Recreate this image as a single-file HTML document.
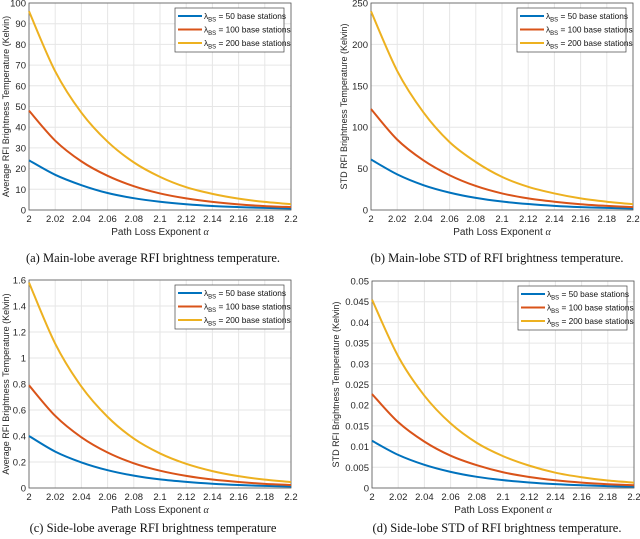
<!DOCTYPE html>
<html><head><meta charset="utf-8">
<style>
body{margin:0;background:#fff;}
svg{display:block;}
text{font-family:"Liberation Sans",sans-serif;}
.cap{font-family:"Liberation Serif",serif;font-size:12.5px;fill:#111;}
</style></head>
<body>
<svg id="fig" width="640" height="539" viewBox="0 0 640 539"></svg>
<script>
const xTicks = [2,2.02,2.04,2.06,2.08,2.1,2.12,2.14,2.16,2.18,2.2];
const xTickLabels = ['2','2.02','2.04','2.06','2.08','2.1','2.12','2.14','2.16','2.18','2.2'];
const xValues = [2,2.02,2.04,2.06,2.08,2.1,2.12,2.14,2.16,2.18,2.2];
const seriesNames = ['50','100','200'];

const aBlue = [24,17,12,8.2,5.7,4,2.8,1.95,1.4,1,0.7];
const aRed = [48,33.5,23.5,16.5,11.5,8,5.6,3.9,2.7,1.9,1.4];
const aYellow = [96,67,47,33,23,16,11,7.8,5.5,3.9,2.8];
const aYTicks = [0,10,20,30,40,50,60,70,80,90,100];

const bBlue = [61,43,30,21,14.6,10.2,7.2,5,3.5,2.5,1.8];
const bRed = [122,85,60,42,29,20,14,10,7,5,3.5];
const bYellow = [240,168,118,82,58,40,28,20,14,10,7];
const bYTicks = [0,50,100,150,200,250];

const cBlue = [0.4,0.28,0.197,0.137,0.095,0.066,0.047,0.033,0.023,0.016,0.012];
const cRed = [0.79,0.555,0.39,0.273,0.19,0.133,0.093,0.065,0.046,0.032,0.023];
const cYellow = [1.58,1.11,0.78,0.547,0.38,0.266,0.186,0.13,0.091,0.064,0.046];
const cYTicks = [0,0.2,0.4,0.6,0.8,1,1.2,1.4,1.6];

const dBlue = [0.0114,0.008,0.0056,0.0039,0.0027,0.0019,0.00133,0.00093,0.00065,0.00046,0.00033];
const dRed = [0.0227,0.0159,0.0112,0.0078,0.0055,0.0038,0.00267,0.00187,0.0013,0.00092,0.00065];
const dYellow = [0.0455,0.0318,0.0223,0.0156,0.0109,0.0077,0.0054,0.0037,0.0026,0.0018,0.0013];
const dYTicks = [0,0.005,0.01,0.015,0.02,0.025,0.03,0.035,0.04,0.045,0.05];

const NS='http://www.w3.org/2000/svg';
const svg=document.getElementById('fig');
function mk(tag,attrs,parent,txt){const e=document.createElementNS(NS,tag);for(const k in attrs)e.setAttribute(k,attrs[k]);if(txt!==undefined)e.textContent=txt;(parent||svg).appendChild(e);return e;}

const colors=['#0072BD','#D95319','#EDB120'];

function smoothPath(pts){
  let d='M'+pts[0][0].toFixed(2)+','+pts[0][1].toFixed(2);
  for(let i=0;i<pts.length-1;i++){
    const p0=pts[Math.max(0,i-1)],p1=pts[i],p2=pts[i+1],p3=pts[Math.min(pts.length-1,i+2)];
    const c1x=p1[0]+(p2[0]-p0[0])/6,c1y=p1[1]+(p2[1]-p0[1])/6;
    const c2x=p2[0]-(p3[0]-p1[0])/6,c2y=p2[1]-(p3[1]-p1[1])/6;
    d+=' C'+c1x.toFixed(2)+','+c1y.toFixed(2)+' '+c2x.toFixed(2)+','+c2y.toFixed(2)+' '+p2[0].toFixed(2)+','+p2[1].toFixed(2);
  }
  return d;
}

function chart(id,L,T,R,B,yTicks,yMax,series,yTitle,titleOff,caption,capX,capY){
  const g=mk('g',{});
  
  
  const xs=v=>L+(v-2)/0.2*(R-L);
  const ys=v=>B-v/yMax*(B-T);
  mk('rect',{x:L,y:T,width:R-L,height:B-T,fill:'#fff'},g);
  xTicks.forEach((t,i)=>{
    const x=xs(t);
    const gl=mk('line',{x1:x,x2:x,y1:T,y2:B,stroke:'#e6e6e6','stroke-width':1},g);
    
    
    const tl=mk('text',{x:x,y:B+12,'font-size':9.5,'text-anchor':'middle',fill:'#262626'},g,xTickLabels[i]);
    
    
  });
  yTicks.forEach(t=>{
    const y=ys(t);
    const gl=mk('line',{x1:L,x2:R,y1:y,y2:y,stroke:'#e6e6e6','stroke-width':1},g);
    
    
    const tl=mk('text',{x:L-3,y:y+3.5,'font-size':9.5,'text-anchor':'end',fill:'#262626'},g,String(t));
    
    
  });
  mk('rect',{x:L,y:T,width:R-L,height:B-T,fill:'none',stroke:'#555','stroke-width':0.8},g);
  series.forEach((s,si)=>{
    const pts=s.map((v,i)=>[xs(xValues[i]),ys(v)]);
    const p=mk('path',{d:smoothPath(pts),fill:'none',stroke:colors[si],'stroke-width':2,'stroke-linejoin':'round'},g);
    
    
  });
  const xt=mk('text',{x:(L+R)/2,y:B+25,'font-size':10,'text-anchor':'middle',fill:'#262626'},g);
  
  
  xt.innerHTML='Path Loss Exponent <tspan font-style="italic" font-family="Liberation Serif">α</tspan>';
  const yt=mk('text',{x:0,y:0,'font-size':9,'text-anchor':'middle',fill:'#262626',transform:`translate(${L-titleOff},${(T+B)/2}) rotate(-90)`},g,yTitle);
  
  
  const lw=109,lh=44,lx=R-lw-7,ly=T+5;
  const lg=mk('g',{},g);
  
  
  mk('rect',{x:lx,y:ly,width:lw,height:lh,fill:'#fff',stroke:'#444','stroke-width':0.7},lg);
  seriesNames.forEach((n,i)=>{
    const yy=ly+8+i*13.5;
    const e=mk('g',{},lg);
    
    
    mk('line',{x1:lx+3,x2:lx+27,y1:yy,y2:yy,stroke:colors[i],'stroke-width':2},e);
    const t=mk('text',{x:lx+29,y:yy+3,'font-size':8.3,fill:'#111'},e);
    t.innerHTML='λ<tspan font-size="6" dy="2.5">BS</tspan><tspan dy="-2.5"> = '+n+' base stations</tspan>';
  });
  const c=mk('text',{x:capX,y:capY,'text-anchor':'middle',class:'cap'},svg,caption);
  
  
}
chart('chart-a',29,3,291,210,aYTicks,100,[aBlue,aRed,aYellow],'Average RFI Brightness Temperature (Kelvin)',20,'(a) Main-lobe average RFI brightness temperature.',153,262);
chart('chart-b',371,3,633,210,bYTicks,250,[bBlue,bRed,bYellow],'STD RFI Brightness Temperature (Kelvin)',24,'(b) Main-lobe STD of RFI brightness temperature.',497,262);
chart('chart-c',29,280,291,488,cYTicks,1.6,[cBlue,cRed,cYellow],'Average RFI Brightness Temperature (Kelvin)',20,'(c) Side-lobe average RFI brightness temperature',153,532);
chart('chart-d',372,281,634,488,dYTicks,0.05,[dBlue,dRed,dYellow],'STD RFI Brightness Temperature (Kelvin)',33,'(d) Side-lobe STD of RFI brightness temperature.',497,532);
</script>
</body></html>
